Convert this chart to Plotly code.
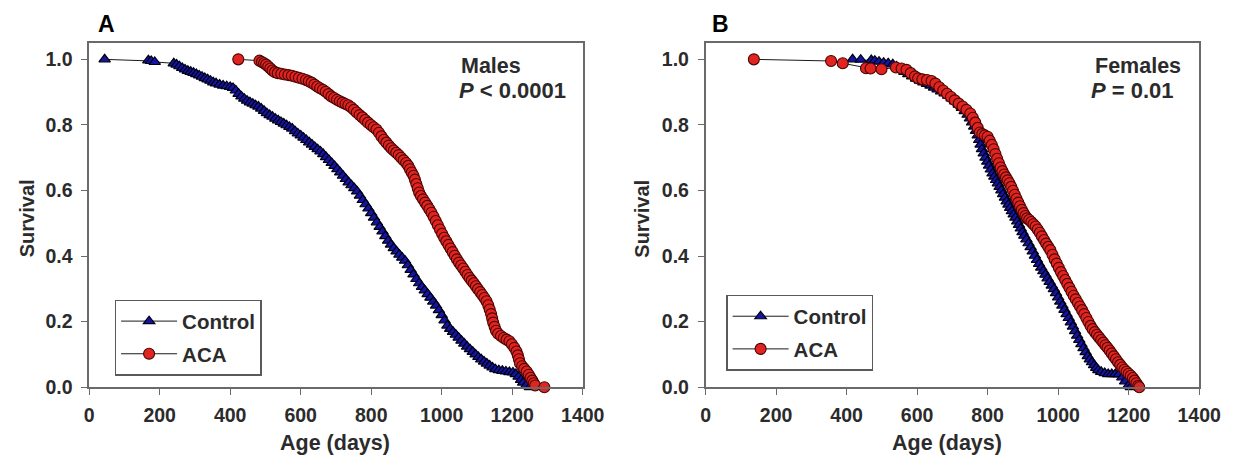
import plotly.graph_objects as go

# ---------------- data ----------------
# Panel A: males -- Control
ctrlA_age = [44, 168, 176, 186, 240, 248, 256, 264, 272, 280,
             288, 296, 304, 312, 320, 328, 336, 344, 352, 360,
             370, 380, 390, 400, 408, 416, 424, 432, 440, 448,
             456, 464, 472, 480, 488, 496, 504, 512, 520, 528,
             536, 544, 552, 560, 568, 576, 584, 592, 600, 608,
             616, 624, 632, 640, 648, 656, 664, 672, 680, 688,
             696, 704, 712, 720, 728, 736, 744, 752, 760, 768,
             776, 784, 792, 800, 808, 816, 824, 832, 840, 848,
             856, 864, 872, 880, 888, 896, 904, 912, 920, 928,
             936, 944, 952, 960, 968, 976, 984, 992, 1000, 1008,
             1016, 1024, 1032, 1040, 1048, 1056, 1064, 1072, 1080, 1088,
             1096, 1104, 1112, 1120, 1128, 1136, 1144, 1152, 1162, 1172,
             1182, 1192, 1202, 1210, 1218, 1225, 1231, 1240, 1250]
ctrlA_surv = [1.0, 0.997, 0.995, 0.992, 0.988, 0.984, 0.979, 0.974, 0.969, 0.965,
              0.962, 0.959, 0.955, 0.951, 0.947, 0.943, 0.939, 0.935, 0.930, 0.927,
              0.923, 0.920, 0.918, 0.916, 0.913, 0.905, 0.895, 0.887, 0.880, 0.874,
              0.869, 0.865, 0.860, 0.856, 0.850, 0.843, 0.836, 0.830, 0.825, 0.819,
              0.814, 0.809, 0.804, 0.799, 0.794, 0.789, 0.781, 0.774, 0.768, 0.761,
              0.754, 0.747, 0.740, 0.733, 0.726, 0.719, 0.711, 0.702, 0.693, 0.684,
              0.675, 0.665, 0.655, 0.645, 0.635, 0.625, 0.616, 0.607, 0.597, 0.584,
              0.571, 0.558, 0.545, 0.531, 0.517, 0.503, 0.489, 0.475, 0.461, 0.447,
              0.435, 0.424, 0.414, 0.404, 0.395, 0.386, 0.372, 0.358, 0.344, 0.330,
              0.317, 0.306, 0.295, 0.284, 0.273, 0.261, 0.249, 0.235, 0.220, 0.204,
              0.188, 0.178, 0.169, 0.160, 0.151, 0.142, 0.133, 0.124, 0.116, 0.108,
              0.100, 0.092, 0.085, 0.078, 0.072, 0.066, 0.060, 0.055, 0.052, 0.050,
              0.048, 0.046, 0.045, 0.040, 0.032, 0.022, 0.014, 0.006, 0.0]

# Panel A: males -- ACA
acaA_age = [423, 483, 490, 496, 502, 508, 514, 520, 527, 535,
            545, 555, 565, 575, 585, 595, 605, 615, 623, 631,
            639, 647, 655, 663, 671, 679, 687, 695, 703, 711,
            719, 727, 735, 743, 751, 759, 767, 775, 783, 791,
            799, 807, 815, 822, 829, 836, 843, 850, 857, 864,
            871, 878, 885, 892, 899, 905, 910, 915, 920, 924,
            928, 932, 936, 941, 947, 953, 959, 965, 971, 977,
            983, 989, 995, 1001, 1007, 1013, 1019, 1025, 1031, 1037,
            1043, 1049, 1055, 1061, 1067, 1073, 1079, 1085, 1091, 1097,
            1103, 1109, 1115, 1121, 1127, 1132, 1136, 1140, 1143, 1146,
            1150, 1154, 1160, 1168, 1176, 1184, 1192, 1199, 1206, 1212,
            1216, 1219, 1222, 1228, 1234, 1241, 1247, 1252, 1257, 1261,
            1265, 1291]
acaA_surv = [1.0, 0.996, 0.992, 0.988, 0.984, 0.978, 0.972, 0.966, 0.961, 0.958,
             0.956, 0.954, 0.952, 0.950, 0.947, 0.944, 0.941, 0.937, 0.933, 0.929,
             0.923, 0.917, 0.912, 0.907, 0.901, 0.894, 0.887, 0.882, 0.877, 0.872,
             0.868, 0.864, 0.860, 0.854, 0.846, 0.838, 0.830, 0.823, 0.815, 0.807,
             0.800, 0.793, 0.786, 0.776, 0.765, 0.755, 0.746, 0.737, 0.729, 0.722,
             0.715, 0.708, 0.700, 0.692, 0.684, 0.675, 0.665, 0.655, 0.645, 0.633,
             0.620, 0.607, 0.594, 0.583, 0.573, 0.563, 0.553, 0.543, 0.532, 0.520,
             0.507, 0.494, 0.481, 0.468, 0.456, 0.445, 0.434, 0.423, 0.412, 0.401,
             0.390, 0.380, 0.371, 0.362, 0.352, 0.342, 0.333, 0.325, 0.317, 0.308,
             0.299, 0.290, 0.281, 0.272, 0.262, 0.250, 0.237, 0.223, 0.210, 0.197,
             0.184, 0.172, 0.163, 0.156, 0.150, 0.145, 0.140, 0.131, 0.120, 0.109,
             0.097, 0.085, 0.073, 0.064, 0.056, 0.048, 0.038, 0.029, 0.020, 0.012,
             0.005, 0.0]

# Panel B: females -- Control
ctrlB_age = [417, 440, 470, 480, 492, 505, 518, 531, 542, 553,
             564, 575, 586, 597, 608, 618, 628, 638, 648, 658,
             668, 678, 688, 698, 708, 718, 727, 735, 743, 750,
             756, 762, 767, 772, 776, 780, 784, 789, 794, 799,
             804, 809, 814, 819, 824, 829, 834, 839, 844, 849,
             854, 859, 864, 869, 874, 879, 884, 889, 894, 899,
             904, 910, 916, 922, 928, 934, 940, 946, 952, 958,
             964, 970, 976, 982, 988, 994, 1000, 1006, 1012, 1018,
             1024, 1030, 1036, 1042, 1048, 1054, 1060, 1066, 1072, 1078,
             1084, 1090, 1096, 1102, 1108, 1114, 1122, 1132, 1142, 1152,
             1162, 1172, 1182, 1190, 1199, 1206]
ctrlB_surv = [1.0, 0.999, 0.998, 0.996, 0.993, 0.990, 0.988, 0.985, 0.978, 0.970,
              0.962, 0.955, 0.948, 0.941, 0.935, 0.930, 0.925, 0.920, 0.914, 0.908,
              0.902, 0.896, 0.889, 0.881, 0.872, 0.862, 0.852, 0.842, 0.831, 0.820,
              0.808, 0.795, 0.782, 0.768, 0.754, 0.740, 0.726, 0.713, 0.700, 0.688,
              0.676, 0.664, 0.652, 0.642, 0.632, 0.622, 0.611, 0.600, 0.589, 0.578,
              0.567, 0.557, 0.547, 0.537, 0.527, 0.517, 0.506, 0.495, 0.484, 0.473,
              0.462, 0.451, 0.439, 0.427, 0.414, 0.401, 0.388, 0.376, 0.365, 0.354,
              0.343, 0.332, 0.321, 0.310, 0.299, 0.287, 0.274, 0.261, 0.249, 0.236,
              0.223, 0.211, 0.198, 0.185, 0.171, 0.157, 0.144, 0.131, 0.119, 0.107,
              0.095, 0.085, 0.076, 0.067, 0.059, 0.052, 0.047, 0.043, 0.040, 0.040,
              0.040, 0.039, 0.030, 0.018, 0.005, 0.0]

# Panel B: females -- ACA
acaB_age = [137, 356, 389, 455, 468, 499, 540, 556, 570, 582,
            594, 603, 615, 628, 641, 652, 663, 674, 685, 696,
            707, 718, 729, 740, 751, 758, 765, 772, 778, 785,
            792, 800, 806, 812, 817, 822, 827, 832, 837, 842,
            847, 852, 857, 862, 867, 872, 877, 882, 887, 892,
            897, 902, 907, 912, 918, 924, 930, 936, 942, 948,
            954, 960, 966, 972, 978, 984, 990, 996, 1002, 1008,
            1014, 1020, 1026, 1032, 1038, 1044, 1050, 1056, 1062, 1068,
            1074, 1080, 1086, 1092, 1098, 1104, 1110, 1116, 1122, 1128,
            1134, 1140, 1146, 1152, 1158, 1164, 1170, 1176, 1182, 1188,
            1194, 1200, 1206, 1212, 1217, 1222, 1227, 1230]
acaB_surv = [1.0, 0.995, 0.988, 0.973, 0.972, 0.970, 0.975, 0.972, 0.968, 0.958,
             0.948, 0.942, 0.939, 0.937, 0.934, 0.926, 0.915, 0.905, 0.895, 0.885,
             0.875, 0.865, 0.856, 0.846, 0.835, 0.822, 0.807, 0.791, 0.777, 0.772,
             0.768, 0.764, 0.752, 0.739, 0.726, 0.711, 0.697, 0.683, 0.670, 0.659,
             0.649, 0.640, 0.631, 0.622, 0.611, 0.599, 0.587, 0.575, 0.563, 0.552,
             0.541, 0.531, 0.522, 0.515, 0.510, 0.504, 0.497, 0.490, 0.481, 0.471,
             0.460, 0.449, 0.438, 0.428, 0.418, 0.404, 0.390, 0.377, 0.364, 0.351,
             0.339, 0.327, 0.315, 0.303, 0.291, 0.279, 0.268, 0.257, 0.246, 0.235,
             0.223, 0.211, 0.199, 0.187, 0.177, 0.168, 0.160, 0.152, 0.144, 0.136,
             0.128, 0.120, 0.112, 0.103, 0.094, 0.085, 0.076, 0.068, 0.060, 0.053,
             0.047, 0.041, 0.035, 0.028, 0.020, 0.012, 0.004, 0.0]

x_ticks = [0, 200, 400, 600, 800, 1000, 1200, 1400]
y_ticks = [0.0, 0.2, 0.4, 0.6, 0.8, 1.0]
y_ticklabels = ["0.0", "0.2", "0.4", "0.6", "0.8", "1.0"]
series_names = ["Control", "ACA"]
panel_labels = ["A", "B"]
sex_labels = ["Males", "Females"]
p_labels = ["<i>P</i> < 0.0001", "<i>P</i> = 0.01"]
x_title = "Age (days)"
y_title = "Survival"

# ---------------- styling ----------------
W, H = 1252, 468
FONT = "Liberation Sans, Arial, sans-serif"
BLUE = "#1414a0"
RED = "#e22420"
AXIS = "#6a6a6a"
TXT = "#2b2b2b"


def px(x):
    return x / W


def py(y):
    return 1 - y / H


fig = go.Figure()

panels = [
    (ctrlA_age, ctrlA_surv, acaA_age, acaA_surv, "x", "y", "legend", "A"),
    (ctrlB_age, ctrlB_surv, acaB_age, acaB_surv, "x2", "y2", "legend2", "B"),
]
for ca, cs, aa, as_, xa, ya, lg, tag in panels:
    fig.add_trace(go.Scatter(
        x=ca, y=cs, xaxis=xa, yaxis=ya, name=series_names[0], legend=lg,
        legendgroup="ctrl" + tag,
        mode="lines+markers", cliponaxis=False,
        line=dict(color="#1a1a1a", width=1),
        marker=dict(symbol="triangle-up", size=10, color=BLUE,
                    line=dict(color="#000014", width=1.2)),
    ))
    fig.add_trace(go.Scatter(
        x=aa, y=as_, xaxis=xa, yaxis=ya, name=series_names[1], legend=lg,
        legendgroup="aca" + tag,
        mode="lines+markers", cliponaxis=False,
        line=dict(color="#1a1a1a", width=1),
        marker=dict(symbol="circle", size=11, color=RED,
                    line=dict(color="#480404", width=1.1)),
    ))

ydom = [py(396.5), py(44)]
xdomA = [px(86), px(590.5)]
xdomB = [px(716), px(1220.5)]

axis_common = dict(
    showline=True, linecolor=AXIS, linewidth=1.5, mirror=True,
    ticks="outside", ticklen=6, tickwidth=1.3, tickcolor=AXIS,
    showgrid=False, zeroline=False,
    tickfont=dict(family=FONT, size=19.5, color=TXT, weight="bold"),
)
fig.update_layout(
    width=W, height=H,
    margin=dict(l=0, r=0, t=0, b=0),
    paper_bgcolor="white", plot_bgcolor="white",
    showlegend=True,
    xaxis=dict(domain=xdomA, range=[0, 1400], tickvals=x_ticks, anchor="y",
               ticklabelstandoff=4, **axis_common),
    yaxis=dict(domain=ydom, range=[0, 1.05], tickvals=y_ticks, ticktext=y_ticklabels,
               anchor="x", ticklabelstandoff=5, **axis_common),
    xaxis2=dict(domain=xdomB, range=[0, 1400], tickvals=x_ticks, anchor="y2",
                ticklabelstandoff=4, **axis_common),
    yaxis2=dict(domain=ydom, range=[0, 1.05], tickvals=y_ticks, ticktext=y_ticklabels,
                anchor="x2", ticklabelstandoff=5, **axis_common),
)

legend_common = dict(
    xanchor="left", yanchor="top", bgcolor="white",
    bordercolor="#5a5a5a", borderwidth=1.5,
    font=dict(family=FONT, size=20.5, color=TXT, weight="bold"),
    itemwidth=56, traceorder="grouped", tracegroupgap=3,
)
fig.update_layout(
    legend=dict(x=px(112), y=py(307), **legend_common),
    legend2=dict(x=px(737), y=py(302), **legend_common),
)

annotations = []
for i, (xc_title, ylab_x, letter_x, text_x1, text_x2) in enumerate([
        (337, 22, 104, 465, 463), (963, 651, 731, 1113, 1109)]):
    annotations.append(dict(x=px(letter_x), y=py(25), xref="paper", yref="paper",
                            text=panel_labels[i], showarrow=False, xanchor="center",
                            yanchor="middle",
                            font=dict(family=FONT, size=23, color="black", weight="bold")))
    annotations.append(dict(x=px(xc_title), y=py(454), xref="paper", yref="paper",
                            text=x_title, showarrow=False, xanchor="center", yanchor="middle",
                            font=dict(family=FONT, size=21.5, color=TXT, weight="bold")))
    annotations.append(dict(x=px(ylab_x), y=py(224), xref="paper", yref="paper",
                            text=y_title, showarrow=False, xanchor="center", yanchor="middle",
                            textangle=-90,
                            font=dict(family=FONT, size=20, color=TXT, weight="bold")))
    annotations.append(dict(x=px(text_x1), y=py(68), xref="paper", yref="paper",
                            text=sex_labels[i], showarrow=False, borderpad=0,
                            xanchor="left", yanchor="middle", align="left",
                            font=dict(family=FONT, size=21.5, color=TXT, weight="bold")))
    annotations.append(dict(x=px(text_x2), y=py(93), xref="paper", yref="paper",
                            text=p_labels[i], showarrow=False, borderpad=0,
                            xanchor="left", yanchor="middle", align="left",
                            font=dict(family=FONT, size=22, color=TXT, weight="bold")))
fig.update_layout(annotations=annotations)

# no mode bar; remove the default 8 px page margin so the figure fills the window exactly
fig.write_html("out.html", config={"displayModeBar": False},
               post_script="document.body.style.margin='0px';")
